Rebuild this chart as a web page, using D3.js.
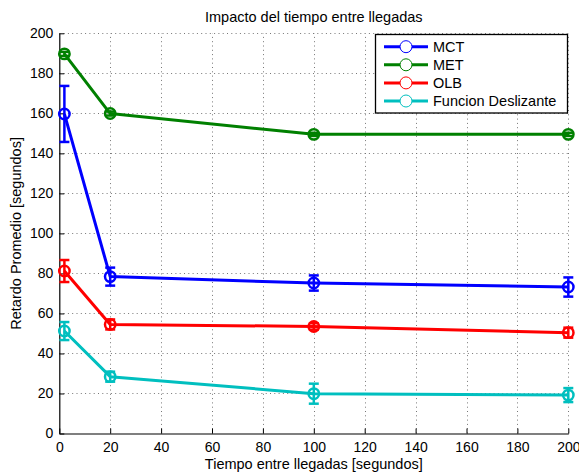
<!DOCTYPE html>
<html>
<head>
<meta charset="utf-8">
<script src="https://cdn.jsdelivr.net/npm/d3@7"></script>
<style>
  html, body { margin: 0; padding: 0; background: #fff; }
  svg { display: block; font-family: "Liberation Sans", Arial, Helvetica, sans-serif; }
</style>
</head>
<body>
<svg id="chart" width="579" height="472"></svg>
<script>
// ---- data ----
const xValues = [2, 20, 100, 200];
const seriesNames = ["MCT", "MET", "OLB", "Funcion Deslizante"];
const seriesColors = ["#0000ff", "#008000", "#ff0000", "#00bfbf"];
const mctMean = [159.7, 78.4, 75.2, 73.2];
const mctErr  = [14, 4.5, 3.8, 4.8];
const metMean = [189.7, 159.9, 149.5, 149.5];
const metErr  = [1, 1, 0.8, 0.8];
const olbMean = [81.2, 54.5, 53.5, 50.4];
const olbErr  = [5.5, 2.5, 1.6, 2.5];
const fdMean  = [51.2, 28.4, 19.9, 19.2];
const fdErr   = [4.5, 2.5, 5, 3.5];
const xTicks = [0, 20, 40, 60, 80, 100, 120, 140, 160, 180, 200];
const yTicks = [0, 20, 40, 60, 80, 100, 120, 140, 160, 180, 200];
const titleText = "Impacto del tiempo entre llegadas";
const xLabelText = "Tiempo entre llegadas [segundos]";
const yLabelText = "Retardo Promedio [segundos]";

const series = [
  { name: seriesNames[0], color: seriesColors[0], mean: mctMean, err: mctErr },
  { name: seriesNames[1], color: seriesColors[1], mean: metMean, err: metErr },
  { name: seriesNames[2], color: seriesColors[2], mean: olbMean, err: olbErr },
  { name: seriesNames[3], color: seriesColors[3], mean: fdMean, err: fdErr }
];

// ---- layout ----
const svg = d3.select("#chart");
const L = 59.3, R = 568.3, T = 33.3, B = 433.5;
const x = d3.scaleLinear().domain([0, 200]).range([L, R]);
const y = d3.scaleLinear().domain([0, 200]).range([B, T]);

// grid
const grid = svg.append("g").attr("stroke", "#777").attr("stroke-width", 1)
  .attr("stroke-dasharray", "1,3.3");
grid.selectAll("line.gx").data(xTicks.filter(d => d > 0)).join("line")
  .attr("x1", d => Math.round(x(d)) + 0.5).attr("x2", d => Math.round(x(d)) + 0.5)
  .attr("y1", B).attr("y2", T);
grid.selectAll("line.gy").data(yTicks.filter(d => d > 0)).join("line")
  .attr("y1", d => Math.round(y(d)) + 0.5).attr("y2", d => Math.round(y(d)) + 0.5)
  .attr("x1", L).attr("x2", R);

// axes
const xAxis = svg.append("g").attr("transform", `translate(0,${B})`)
  .call(d3.axisBottom(x).tickValues(xTicks).tickSize(-5).tickPadding(9).tickSizeOuter(0));
const yAxis = svg.append("g").attr("transform", `translate(${L},0)`)
  .call(d3.axisLeft(y).tickValues(yTicks).tickSize(-5).tickPadding(6).tickSizeOuter(0));
[xAxis, yAxis].forEach(g => {
  g.select(".domain").attr("stroke", "#000").attr("stroke-width", 1.2);
  g.selectAll(".tick line").attr("stroke", "#000").attr("stroke-width", 1);
  g.selectAll(".tick text").attr("fill", "#000").attr("font-size", 14)
    .attr("font-family", "Liberation Sans, Arial, sans-serif");
});
xAxis.selectAll(".tick text").attr("dy", "0.71em");

// titles
svg.append("text").attr("x", (L + R) / 2).attr("y", 22).attr("text-anchor", "middle")
  .attr("font-size", 14.5).attr("fill", "#000").text(titleText);
svg.append("text").attr("x", (L + R) / 2).attr("y", 469).attr("text-anchor", "middle")
  .attr("font-size", 14.5).attr("fill", "#000").text(xLabelText);
svg.append("text").attr("transform", `translate(21,${(T + B) / 2}) rotate(-90)`)
  .attr("text-anchor", "middle").attr("font-size", 14.5).attr("fill", "#000").text(yLabelText);

// series
const line = d3.line().x(d => x(d.x)).y(d => y(d.y));
const capW = 5;
series.forEach(s => {
  const pts = xValues.map((xv, i) => ({ x: xv, y: s.mean[i], e: s.err[i] }));
  const g = svg.append("g");
  g.append("path").datum(pts).attr("d", line).attr("fill", "none")
    .attr("stroke", s.color).attr("stroke-width", 3).attr("stroke-linejoin", "round");
  const eb = g.selectAll("g.eb").data(pts).join("g").attr("stroke", s.color).attr("stroke-width", 2.5);
  eb.append("line").attr("x1", d => x(d.x)).attr("x2", d => x(d.x))
    .attr("y1", d => y(d.y - d.e)).attr("y2", d => y(d.y + d.e));
  eb.append("line").attr("x1", d => x(d.x) - capW).attr("x2", d => x(d.x) + capW)
    .attr("y1", d => y(d.y + d.e)).attr("y2", d => y(d.y + d.e));
  eb.append("line").attr("x1", d => x(d.x) - capW).attr("x2", d => x(d.x) + capW)
    .attr("y1", d => y(d.y - d.e)).attr("y2", d => y(d.y - d.e));
  g.selectAll("circle").data(pts).join("circle")
    .attr("cx", d => x(d.x)).attr("cy", d => y(d.y)).attr("r", 5.2)
    .attr("fill", "none").attr("stroke", s.color).attr("stroke-width", 2.5);
});

// legend
const lg = svg.append("g");
const lx = 375.5, ly = 34.5, lw = 192, lh = 78.5;
lg.append("rect").attr("x", lx).attr("y", ly).attr("width", lw).attr("height", lh)
  .attr("fill", "#fff").attr("stroke", "#000").attr("stroke-width", 1.3);
const rows = lg.selectAll("g.row").data(series).join("g")
  .attr("transform", (d, i) => `translate(0,${46.7 + i * 18.1})`);
rows.append("line").attr("x1", 384).attr("x2", 428).attr("y1", 0).attr("y2", 0)
  .attr("stroke", d => d.color).attr("stroke-width", 3);
rows.append("circle").attr("cx", 406).attr("cy", 0).attr("r", 6)
  .attr("fill", "#fff").attr("stroke", d => d.color).attr("stroke-width", 1);
rows.append("text").attr("x", 433).attr("y", 5.2).attr("font-size", 14.5)
  .attr("fill", "#000").text(d => d.name);
</script>
</body>
</html>
